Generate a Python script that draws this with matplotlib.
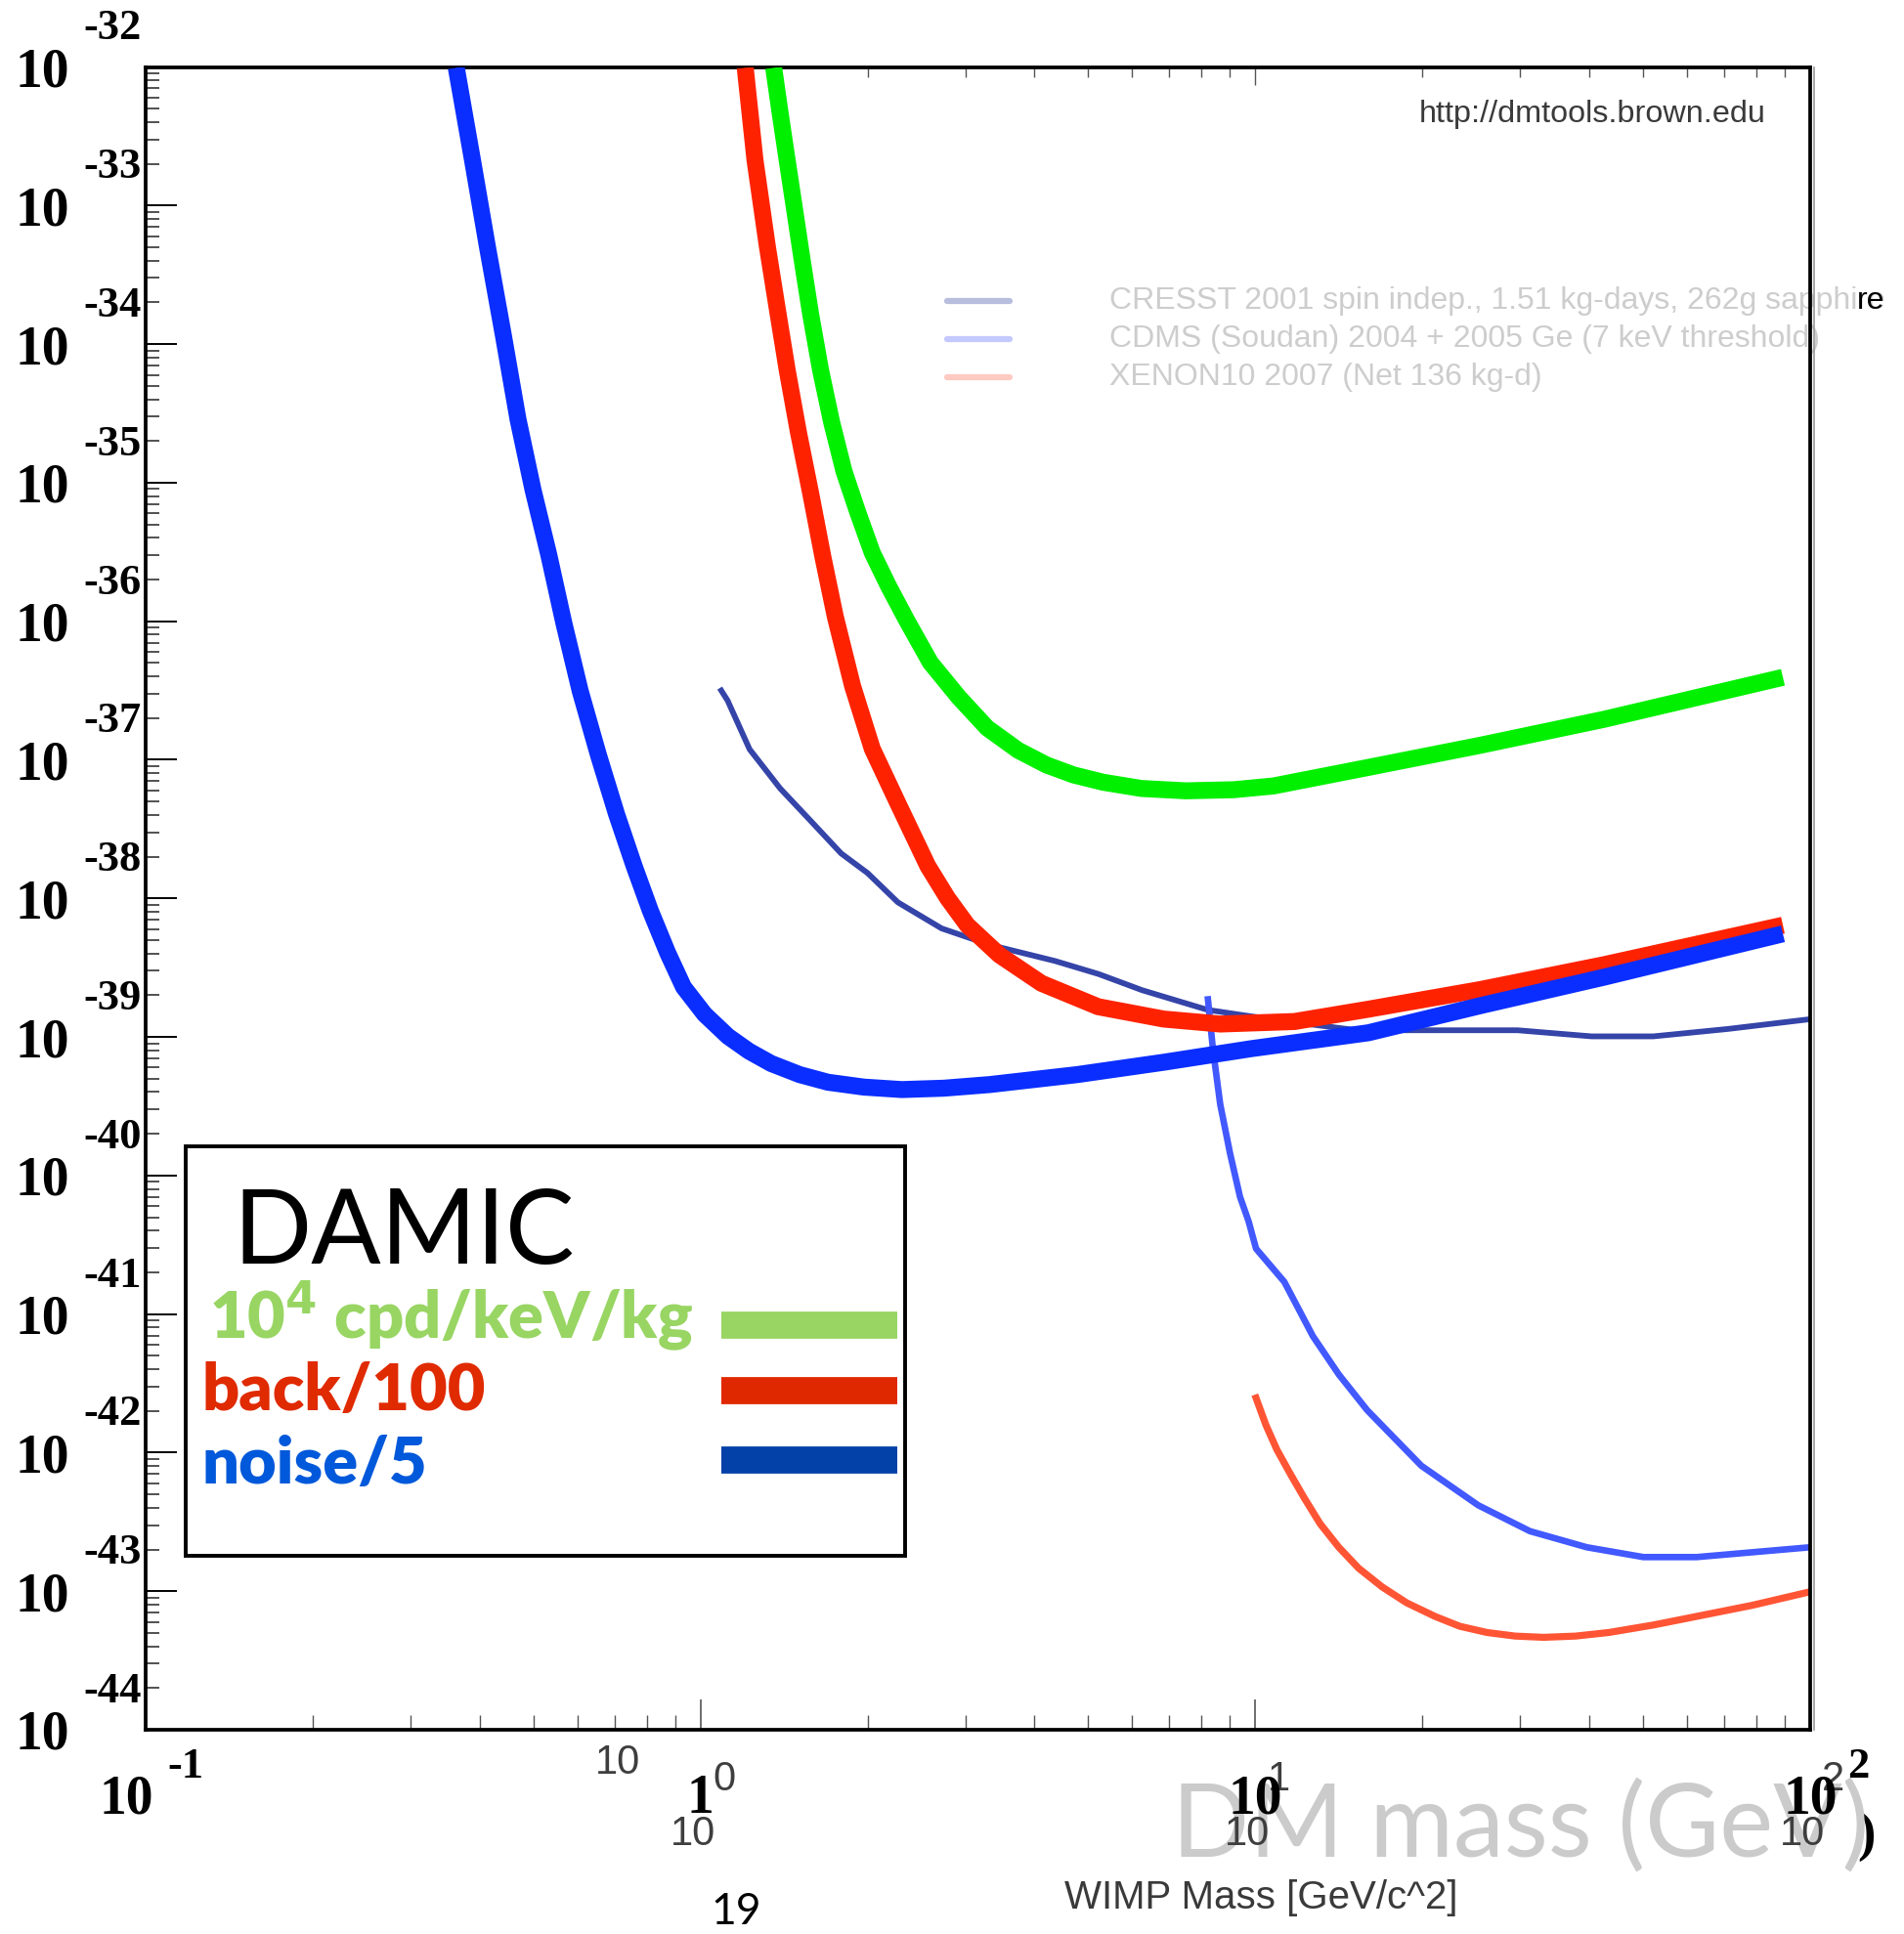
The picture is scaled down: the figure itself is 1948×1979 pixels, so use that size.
import numpy as np
import matplotlib
matplotlib.use("Agg")
import matplotlib.pyplot as plt
from matplotlib.ticker import LogLocator, NullFormatter, FixedLocator
from matplotlib.transforms import blended_transform_factory, offset_copy
from matplotlib.patches import Rectangle

# ---------------- data ----------------
# DAMIC projected limits (slide curves): WIMP mass [GeV] and log10 cross-section [cm^2]
rate_mass = [1.355, 1.390, 1.433, 1.478, 1.524, 1.580, 1.646, 1.723, 1.814, 1.920, 2.040,
             2.182, 2.355, 2.596, 2.920, 3.286, 3.735, 4.201, 4.700, 5.316, 6.230, 7.492,
             9.149, 10.78, 15.99, 25.47, 42.5, 89.3]
rate_log10_xsec = [-32.006, -32.318, -32.674, -33.030, -33.386, -33.787, -34.187, -34.562,
                   -34.918, -35.212, -35.506, -35.746, -35.996, -36.298, -36.548, -36.770,
                   -36.931, -37.037, -37.109, -37.162, -37.207, -37.224, -37.216, -37.189,
                   -37.055, -36.895, -36.708, -36.405]

back_mass = [1.204, 1.254, 1.320, 1.375, 1.433, 1.501, 1.580, 1.663, 1.750, 1.880, 2.040,
             2.273, 2.569, 2.789, 3.027, 3.458, 4.116, 5.208, 6.833, 8.647, 11.76, 15.99,
             25.47, 42.5, 89.3]
back_log10_xsec = [-32.006, -32.674, -33.297, -33.743, -34.187, -34.633, -35.078, -35.541,
                   -35.968, -36.468, -36.921, -37.321, -37.767, -37.999, -38.194, -38.409,
                   -38.613, -38.782, -38.871, -38.907, -38.889, -38.800, -38.658, -38.479,
                   -38.194]

noise_mass = [0.363, 0.3883, 0.413, 0.4414, 0.469, 0.4991, 0.533, 0.5672, 0.607, 0.6548,
              0.706, 0.7595, 0.812, 0.8722, 0.932, 1.017, 1.121, 1.223, 1.341, 1.509, 1.697,
              1.969, 2.307, 2.746, 3.319, 4.775, 6.833, 9.826, 15.99, 25.47, 42.5, 89.3]
noise_log10_xsec = [-32.006, -32.674, -33.297, -33.939, -34.544, -35.052, -35.523, -36.013,
                    -36.503, -36.966, -37.393, -37.768, -38.088, -38.391, -38.640, -38.836,
                    -38.996, -39.103, -39.192, -39.272, -39.327, -39.362, -39.380, -39.370,
                    -39.344, -39.272, -39.183, -39.085, -38.970, -38.774, -38.569, -38.256]

# dmtools experimental limits
cresst_mass = [1.090, 1.119, 1.226, 1.392, 1.580, 1.793, 2.000, 2.269, 2.720, 3.319, 3.700,
               4.355, 5.216, 6.254, 8.207, 9.838, 12.44, 15.26, 29.70, 40.37, 52.16, 70.92, 100.0]
cresst_log10_xsec = [-36.50, -36.572, -36.924, -37.207, -37.441, -37.676, -37.817, -38.029,
                     -38.217, -38.335, -38.382, -38.452, -38.546, -38.663, -38.805, -38.852,
                     -38.907, -38.952, -38.952, -38.996, -38.996, -38.943, -38.872]

cdms_mass = [8.215, 8.385, 8.644, 9.006, 9.384, 9.727, 10.03, 11.28, 12.70, 14.14, 15.91,
             19.92, 25.22, 31.26, 39.57, 50.07, 62.42, 100.0]
cdms_log10_xsec = [-38.729, -39.085, -39.486, -39.842, -40.154, -40.332, -40.528, -40.768,
                   -41.160, -41.436, -41.694, -42.095, -42.380, -42.567, -42.683, -42.754,
                   -42.754, -42.683]

xenon_mass = [10.03, 10.45, 10.94, 11.58, 12.25, 13.09, 14.14, 15.35, 16.91, 18.74, 21.08,
              23.35, 26.14, 29.40, 33.07, 37.78, 43.38, 52.18, 62.42, 78.60, 100.0]
xenon_log10_xsec = [-41.606, -41.801, -41.980, -42.158, -42.327, -42.514, -42.683, -42.834,
                    -42.968, -43.084, -43.182, -43.253, -43.298, -43.324, -43.333, -43.324,
                    -43.298, -43.244, -43.182, -43.102, -43.004]

damic_labels = ["10$^{\\mathbf{4}}$ cpd/keV/kg", "back/100", "noise/5"]
dmtools_labels = ["CRESST 2001 spin indep., 1.51 kg-days, 262g sapphire",
                  "CDMS (Soudan) 2004 + 2005 Ge (7 keV threshold)",
                  "XENON10 2007 (Net 136 kg-d)"]
y_exponents = list(range(-32, -45, -1))
x_bold_decades = [-1, 0, 1, 2]
x_bold_bases = ["10", "1", "10", "10"]
x_bold_sups = ["-1", "", "", "2"]
x_root_decades = [0, 1, 2]

# ---------------- figure ----------------
W, H = 1948, 1979
fig = plt.figure(figsize=(W / 100, H / 100), dpi=100)
fig.patch.set_facecolor("white")


def fx(px):
    return px / W


def fy(py):
    return 1 - py / H


AX_L, AX_R, AX_T, AX_B = 149, 1852, 68.5, 1770
ax = fig.add_axes([fx(AX_L), fy(AX_B), (AX_R - AX_L) / W, (AX_B - AX_T) / H])
ax.set_xscale("log")
ax.set_yscale("log")
for s in ax.spines.values():
    s.set_linewidth(2.7)
    s.set_color("black")

for axis in (ax.xaxis, ax.yaxis):
    axis.set_major_locator(LogLocator(base=10, numticks=30))
    axis.set_minor_locator(LogLocator(base=10, subs=np.arange(2, 10), numticks=200))
    axis.set_major_formatter(NullFormatter())
    axis.set_minor_formatter(NullFormatter())
ax.tick_params(axis="both", which="both", direction="in", top=False, right=False,
               labelbottom=False, labelleft=False)
ax.tick_params(axis="y", which="major", length=23, width=1.4, color="black")
ax.tick_params(axis="y", which="minor", length=10, width=1.1, color="#222222")
ax.tick_params(axis="x", which="major", length=22, width=1.2, color="#555555")
ax.tick_params(axis="x", which="minor", length=11, width=1.0, color="#555555")

# top ticks of the underlying ROOT frame (only in its range)
sec = ax.secondary_xaxis("top")
sec.xaxis.set_major_locator(FixedLocator([10.0]))
sec.xaxis.set_minor_locator(FixedLocator([2, 3, 4, 5, 6, 7, 8, 9, 20, 30, 40, 50, 60, 70, 80, 90]))
sec.xaxis.set_major_formatter(NullFormatter())
sec.xaxis.set_minor_formatter(NullFormatter())
sec.tick_params(which="major", direction="in", length=14, width=1.0, color="#555555")
sec.tick_params(which="minor", direction="in", length=8, width=1.0, color="#555555")
sec.spines["top"].set_visible(False)

# thin gray edge of the underlying ROOT frame, just right of the right axis
ax.plot([1, 1], [0, 1], transform=offset_copy(ax.transAxes, fig=fig, x=4, y=0, units="dots"),
        color="#9a9a9a", lw=1.2, clip_on=False, zorder=2)

# ---------------- curves ----------------
ax.plot(cresst_mass, 10.0 ** np.array(cresst_log10_xsec), color="#3444a8", lw=4.2,
        zorder=2, solid_joinstyle="round")
ax.plot(cdms_mass, 10.0 ** np.array(cdms_log10_xsec), color="#4259ff", lw=4.8,
        zorder=2, solid_joinstyle="round")
ax.plot(xenon_mass, 10.0 ** np.array(xenon_log10_xsec), color="#ff5535", lw=5.2,
        zorder=2, solid_joinstyle="round")
ax.plot(rate_mass, 10.0 ** np.array(rate_log10_xsec), color="#00f000", lw=12.5,
        zorder=3, solid_joinstyle="round", solid_capstyle="butt")
ax.plot(back_mass, 10.0 ** np.array(back_log10_xsec), color="#ff2200", lw=12.5,
        zorder=3, solid_joinstyle="round", solid_capstyle="butt")
ax.plot(noise_mass, 10.0 ** np.array(noise_log10_xsec), color="#0a2eff", lw=12.5,
        zorder=3, solid_joinstyle="round", solid_capstyle="butt")

# ---------------- tick labels ----------------
xtr = blended_transform_factory(ax.transData, ax.transAxes)
ytr = blended_transform_factory(ax.transAxes, ax.transData)
serif_bold = dict(family="Liberation Serif", fontweight="bold", color="black")
narrow = ["Liberation Sans Narrow", "Liberation Sans"]

for e in y_exponents:
    ax.annotate("10", xy=(0, 10.0 ** e), xycoords=ytr, xytext=(-133, -20),
                textcoords="offset pixels", ha="left", va="baseline", fontsize=40,
                annotation_clip=False, zorder=6, **serif_bold)
    ax.annotate("%d" % e, xy=(0, 10.0 ** e), xycoords=ytr, xytext=(-64, 28),
                textcoords="offset pixels", ha="left", va="baseline", fontsize=32,
                annotation_clip=False, zorder=6, **serif_bold)

# gray ROOT labels (underlying plot)
root_gray = dict(family=narrow, color="#3e3e3e", fontsize=30, zorder=4)
for d in x_root_decades:
    ax.annotate("10", xy=(10.0 ** d, 0), xycoords=xtr, xytext=(-8, -118),
                textcoords="offset pixels", ha="center", va="baseline",
                annotation_clip=False, **root_gray)
    ax.annotate("%d" % d, xy=(10.0 ** d, 0), xycoords=xtr, xytext=(24, -62),
                textcoords="offset pixels", ha="center", va="baseline",
                annotation_clip=False, **root_gray)
ax.annotate("10", xy=(1.0, 0), xycoords=xtr, xytext=(-85, -45),
            textcoords="offset pixels", ha="center", va="baseline",
            annotation_clip=False, **root_gray)

base_off = {-1: -20}
for d, b, sp in zip(x_bold_decades, x_bold_bases, x_bold_sups):
    ax.annotate(b, xy=(10.0 ** d, 0), xycoords=xtr, xytext=(base_off.get(d, 0), -85),
                textcoords="offset pixels", ha="center", va="baseline", fontsize=40,
                annotation_clip=False, zorder=6, **serif_bold)
    if sp:
        ax.annotate(sp, xy=(10.0 ** d, 0), xycoords=xtr,
                    xytext=(22 if d == -1 else 38, -49),
                    textcoords="offset pixels", ha="left", va="baseline", fontsize=32,
                    annotation_clip=False, zorder=6, **serif_bold)

# ---------------- faint dmtools legend ----------------
leg_colors = ["#b7bddd", "#c4c9ff", "#ffcac2"]
leg_y = [308, 347, 386]
faint_texts = []
for lab, col, yy in zip(dmtools_labels, leg_colors, leg_y):
    ax.plot([fx(969), fx(1033)], [fy(yy), fy(yy)], transform=fig.transFigure,
            color=col, lw=4.5, solid_capstyle="round", zorder=1, clip_on=False)
    t = ax.text(fx(1135), fy(yy + 8), lab, transform=fig.transFigure, ha="left",
                va="baseline", fontsize=23, family="Liberation Sans", color="#cdcdcd",
                zorder=1, clip_on=False)
    faint_texts.append(t)

ax.text(fx(1452), fy(125), "http://dmtools.brown.edu", transform=fig.transFigure,
        ha="left", va="baseline", fontsize=23.3, family=narrow, color="#3a3a3a", zorder=4)

# ---------------- DAMIC legend box ----------------
ax.add_patch(Rectangle((fx(190), fy(1592)), (926 - 190) / W, (1592 - 1173) / H,
                       transform=fig.transFigure, facecolor="white", edgecolor="black",
                       lw=2.8, zorder=7, clip_on=False))
ax.text(fx(238), fy(1293), "DAMIC", transform=fig.transFigure, ha="left", va="baseline",
        fontsize=76, family="Lato", color="black", zorder=8)
lab_colors = ["#98d563", "#e02a00", "#0058da"]
lab_x = [214, 207, 207]
lab_base = [1370, 1443, 1518]
bar_colors = ["#98d563", "#e02800", "#0341a8"]
bar_y = [1356, 1423, 1494]
for lab, c, lx, lb, bc, by in zip(damic_labels, lab_colors, lab_x, lab_base, bar_colors, bar_y):
    ax.text(fx(lx), fy(lb), lab, transform=fig.transFigure, ha="left", va="baseline",
            fontsize=48, family="Lato", fontweight="heavy", color=c, zorder=8)
    ax.plot([fx(738), fx(918)], [fy(by), fy(by)], transform=fig.transFigure, color=bc,
            lw=20, solid_capstyle="butt", zorder=8, clip_on=False)

# ---------------- slide texts below the axes ----------------
fig.text(fx(1919), fy(1893), ")", ha="right", va="baseline", fontsize=40,
         family="Liberation Serif", fontweight="bold", color="black", zorder=-2)
fig.text(fx(1199), fy(1900), "DM mass (GeV)", ha="left", va="baseline", fontsize=75,
         family="Lato", color="#cbcbcb", zorder=-1)
fig.text(fx(1089), fy(1953), "WIMP Mass [GeV/c^2]", ha="left", va="baseline", fontsize=29,
         family=narrow, color="#3a3a3a")
fig.text(fx(753), fy(1969), "19", ha="center", va="baseline", fontsize=32,
         family="Lato", color="black")

ax.set_xlim(0.1, 100)
ax.set_ylim(1e-44, 1e-32)

# black tail "re" of the first dmtools label
fig.canvas.draw()
bb = faint_texts[0].get_window_extent()
ax.text(bb.x1 / W, fy(leg_y[0] + 8), "re", transform=fig.transFigure, ha="right",
        va="baseline", fontsize=23, family="Liberation Sans", color="black", zorder=5)

fig.savefig("out.png", dpi=100, facecolor="white")
